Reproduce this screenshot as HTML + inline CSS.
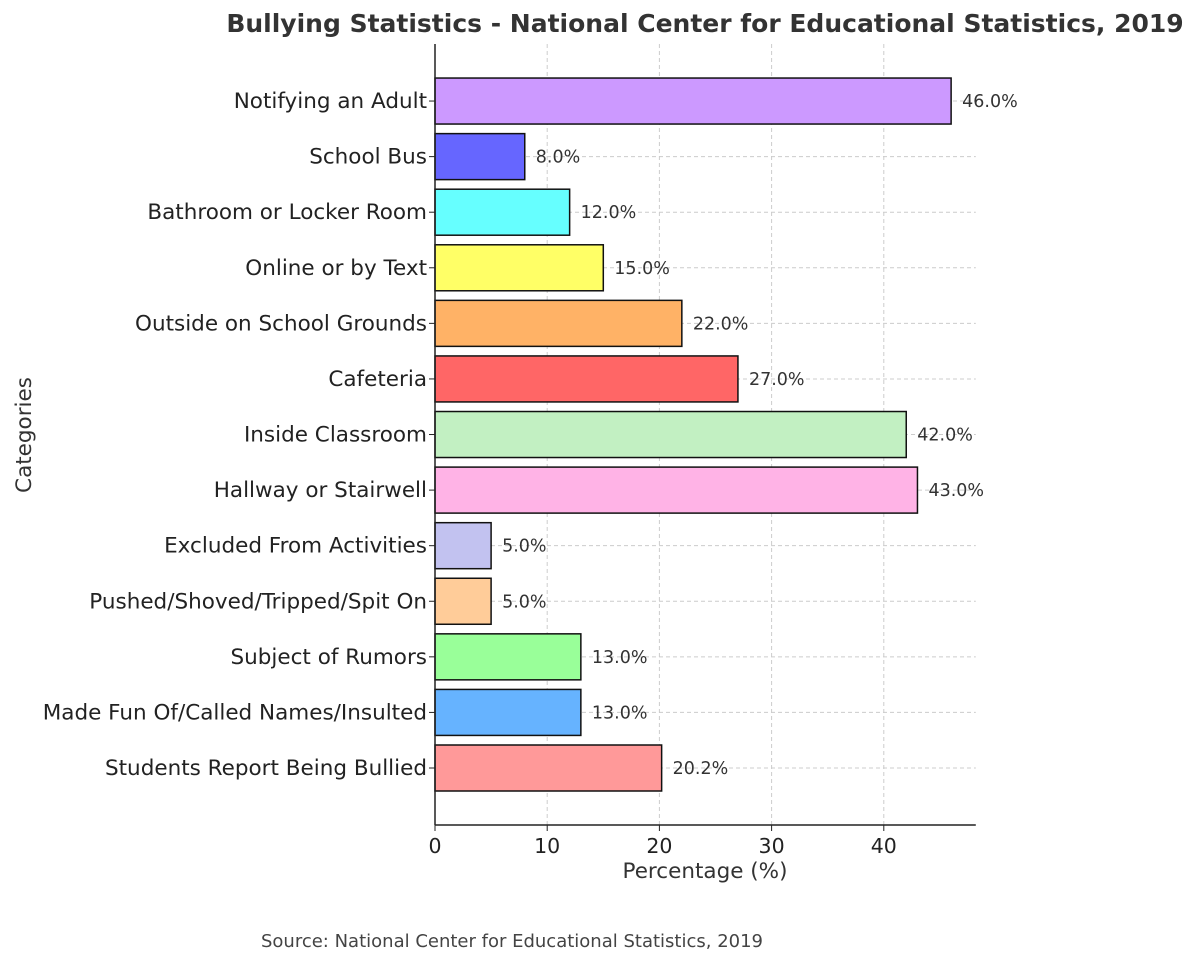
<!DOCTYPE html>
<html><head><meta charset="utf-8"><style>
body{margin:0;background:#fff;font-family:"DejaVu Sans","Liberation Sans",sans-serif;}
svg text{font-family:"DejaVu Sans","Liberation Sans",sans-serif;}
</style></head><body>
<svg id="chart" width="1200" height="964" xmlns="http://www.w3.org/2000/svg">
<text x="705" y="32" text-anchor="middle" font-size="25" font-weight="bold" fill="#333">Bullying Statistics - National Center for Educational Statistics, 2019</text>
<g id="grid"></g><g id="bars"></g><g id="axes"></g>
<text x="705" y="878" text-anchor="middle" font-size="21.5" fill="#333">Percentage (%)</text>
<text transform="translate(31,435) rotate(-90)" text-anchor="middle" font-size="21.5" fill="#333">Categories</text>
<text x="512" y="947" text-anchor="middle" font-size="18" fill="#444">Source: National Center for Educational Statistics, 2019</text>
</svg>
<script>
const categories=["Students Report Being Bullied","Made Fun Of/Called Names/Insulted","Subject of Rumors","Pushed/Shoved/Tripped/Spit On","Excluded From Activities","Hallway or Stairwell","Inside Classroom","Cafeteria","Outside on School Grounds","Online or by Text","Bathroom or Locker Room","School Bus","Notifying an Adult"];
const values=[20.2,13,13,5,5,43,42,27,22,15,12,8,46];
const colors=["#ff9999","#66b3ff","#99ff99","#ffcc99","#c2c2f0","#ffb3e6","#c2f0c2","#ff6666","#ffb266","#ffff66","#66ffff","#6666ff","#cc99ff"];
const xTicks=[0,10,20,30,40];
const NS="http://www.w3.org/2000/svg";
const x0=435,pxPer=11.22,xMax=48.2;
const X=v=>x0+v*pxPer;
const Y=i=>768-i*55.58;
const bh=46;
function mk(tag,attrs,parent,txt){const e=document.createElementNS(NS,tag);for(const k in attrs)e.setAttribute(k,attrs[k]);if(txt!=null)e.textContent=txt;parent.appendChild(e);return e;}
const grid=document.getElementById('grid'),bars=document.getElementById('bars'),axes=document.getElementById('axes');
xTicks.forEach(t=>{const l=mk('line',{x1:X(t),x2:X(t),y1:44,y2:825,stroke:'#ccc','stroke-dasharray':'4,3','stroke-width':1},grid);

});
categories.forEach((c,i)=>{const l=mk('line',{x1:x0,x2:X(xMax),y1:Y(i),y2:Y(i),stroke:'#ccc','stroke-dasharray':'4,3','stroke-width':1},grid);

});
categories.forEach((c,i)=>{
const r=mk('rect',{x:x0,y:Y(i)-bh/2,width:values[i]*pxPer,height:bh,fill:colors[i],stroke:'#111','stroke-width':1.5},bars);


const v=mk('text',{x:X(values[i])+11,y:Y(i)+6,'font-size':17.5,fill:'#333'},bars,values[i].toFixed(1)+'%');


const lb=mk('text',{x:427,y:Y(i)+7,'text-anchor':'end','font-size':21.5,fill:'#222'},axes,c);


const tk=mk('line',{x1:429,x2:435,y1:Y(i),y2:Y(i),stroke:'#222'},axes);


});
xTicks.forEach(t=>{
const tk=mk('line',{x1:X(t),x2:X(t),y1:825,y2:831,stroke:'#222'},axes);


const tl=mk('text',{x:X(t),y:853,'text-anchor':'middle','font-size':20.5,fill:'#222'},axes,String(t));


});
const ya=mk('line',{x1:x0,x2:x0,y1:44,y2:825,stroke:'#222','stroke-width':1.5},axes);


const xa=mk('line',{x1:x0,x2:X(xMax),y1:825,y2:825,stroke:'#222','stroke-width':1.5},axes);


</script>
</body></html>
